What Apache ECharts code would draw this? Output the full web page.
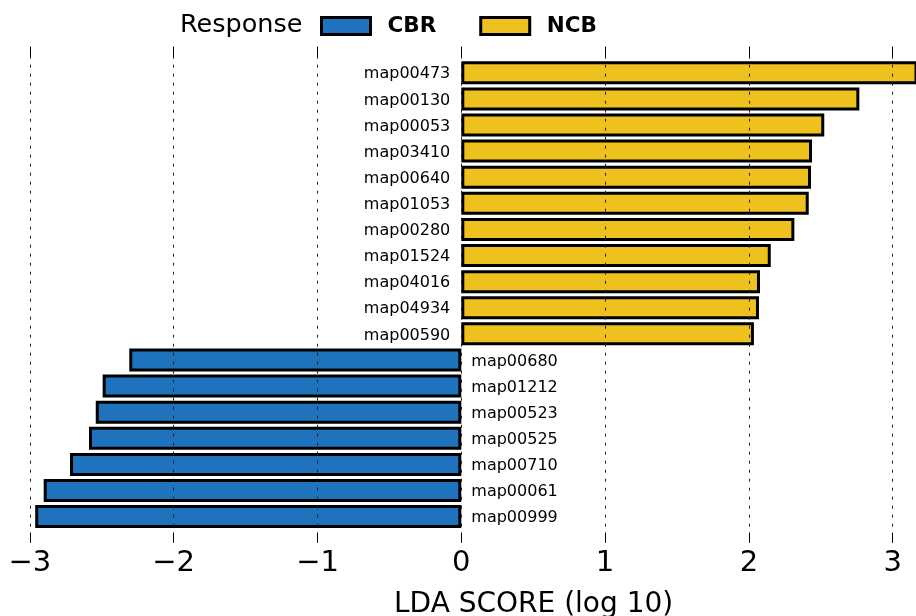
<!DOCTYPE html>
<html>
<head>
<meta charset="utf-8">
<script src="https://cdn.jsdelivr.net/npm/echarts@6/dist/echarts.min.js"></script>
<style>
  html, body { margin: 0; padding: 0; background: #ffffff; }
  #chart { width: 916px; height: 616px; }
</style>
</head>
<body>
<div id="chart"></div>
<script>
// Pathways, top to bottom
const pathways = [
  'map00473', 'map00130', 'map00053', 'map03410', 'map00640', 'map01053',
  'map00280', 'map01524', 'map04016', 'map04934', 'map00590',
  'map00680', 'map01212', 'map00523', 'map00525', 'map00710', 'map00061', 'map00999'
];
// LDA scores (log 10); NCB enriched positive, CBR enriched negative
const ncbScores = [3.55, 2.768, 2.524, 2.439, 2.432, 2.416, 2.316, 2.152, 2.077, 2.070, 2.035];
const cbrScores = [-2.309, -2.494, -2.542, -2.589, -2.721, -2.904, -2.963];
const xTicks = [-3, -2, -1, 0, 1, 2, 3];

const FONT = 'DejaVu Sans';
const BLUE = '#1F72BC';
const YELLOW = '#EEC11E';

const ncbData = pathways.map((p, i) => i < ncbScores.length ? ncbScores[i] : '-');
const cbrData = pathways.map((p, i) => i >= ncbScores.length ? cbrScores[i - ncbScores.length] : '-');

const fmtTick = v => (v < 0 ? '\u2212' + Math.abs(v) : String(v));

const chart = echarts.init(document.getElementById('chart'), null, { renderer: 'canvas' });

// grid 0 carries the dotted grid and the ticks over the full axes height;
// grid 1 holds the bars, inset by half a category band top and bottom
const grid0 = { left: 29.9, right: 23.3, top: 46.7, bottom: 73.3 };
const grid1 = { left: 29.9, right: 0, top: 59.75, bottom: 86.35 };

chart.setOption({
  animation: false,
  backgroundColor: '#ffffff',
  title: [
    {
      text: 'Response', left: 175, top: 7,
      textStyle: { fontFamily: FONT, fontSize: 25.5, fontWeight: 'normal', color: '#000' }
    },
    {
      text: 'LDA SCORE (log 10)', left: 389, top: 586,
      textStyle: { fontFamily: FONT, fontSize: 28, fontWeight: 'normal', color: '#000' }
    }
  ],
  legend: {
    data: ['CBR', 'NCB'],
    left: 315, top: 10,
    icon: 'rect',
    itemWidth: 49, itemHeight: 17, itemGap: 43,
    itemStyle: { borderColor: '#000', borderWidth: 3 },
    textStyle: { fontFamily: FONT, fontSize: 21.5, fontWeight: 'bold', color: '#000', padding: [0, 0, 0, 12] }
  },
  grid: [
    Object.assign({ containLabel: false }, grid0),
    Object.assign({ containLabel: false }, grid1)
  ],
  xAxis: [
    {
      gridIndex: 0, type: 'value', min: xTicks[0], max: xTicks[xTicks.length - 1], interval: 1,
      position: 'bottom', z: 5,
      axisLine: { show: false },
      axisTick: { show: true, inside: true, length: 10, lineStyle: { color: '#000', width: 1 } },
      axisLabel: { fontFamily: FONT, fontSize: 29, color: '#000', margin: 6, formatter: fmtTick },
      splitLine: { show: true, lineStyle: { color: '#222', width: 1, type: [3, 6] } }
    },
    {
      gridIndex: 0, type: 'value', min: xTicks[0], max: xTicks[xTicks.length - 1], interval: 1,
      position: 'top', z: 5,
      axisLine: { show: false },
      axisTick: { show: true, inside: true, length: 10, lineStyle: { color: '#000', width: 1 } },
      axisLabel: { show: false },
      splitLine: { show: false }
    },
    {
      gridIndex: 1, type: 'value', min: -3, max: 3.162, show: false
    }
  ],
  yAxis: [
    { gridIndex: 0, type: 'value', show: false, min: 0, max: 1 },
    {
      gridIndex: 1, type: 'category', data: pathways, inverse: true, show: false
    }
  ],
  series: [
    {
      name: 'CBR', type: 'bar', xAxisIndex: 2, yAxisIndex: 1,
      data: cbrData, barWidth: 23, barGap: '-100%',
      itemStyle: { color: BLUE, borderColor: '#000', borderWidth: 3 },
      label: {
        show: true, position: 'right', distance: 10, offset: [0, 1.5], formatter: '{b}',
        fontFamily: FONT, fontSize: 16, color: '#000'
      }
    },
    {
      name: 'NCB', type: 'bar', xAxisIndex: 2, yAxisIndex: 1,
      data: ncbData, barWidth: 23, barGap: '-100%',
      itemStyle: { color: YELLOW, borderColor: '#000', borderWidth: 3 },
      label: {
        show: true, position: 'left', distance: 11, offset: [0, 1.5], formatter: '{b}',
        fontFamily: FONT, fontSize: 16, color: '#000'
      }
    }
  ]
});
</script>
</body>
</html>
